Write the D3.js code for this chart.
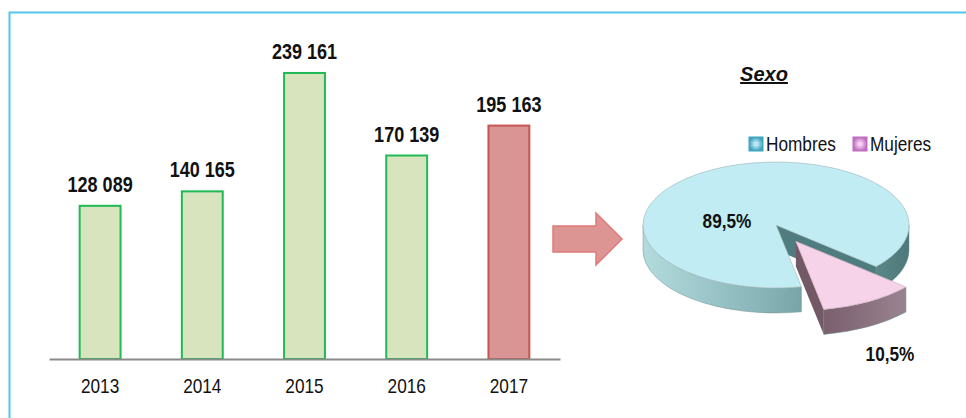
<!DOCTYPE html>
<html>
<head>
<meta charset="utf-8">
<script src="https://cdn.jsdelivr.net/npm/d3@7"></script>
<style>
  body { margin: 0; background: #fff; }
  svg { display: block; }
  .narrow { font-family: "Liberation Sans", Arial, sans-serif; }
</style>
</head>
<body>
<div id="chart"></div>
<script>
// bar data
const years = ["2013", "2014", "2015", "2016", "2017"];
const totals = [128089, 140165, 239161, 170139, 195163];

// pie data
const sexLabels = ["Hombres", "Mujeres"];
const sexShares = [89.5, 10.5];

const W = 966, H = 418;
const SQ = 0.82; // horizontal squeeze to imitate a narrow face

const svg = d3.select("#chart").append("svg")
  .attr("width", W)
  .attr("height", H);

svg.append("rect").attr("width", W).attr("height", H).attr("fill", "#fff");

// frame
svg.append("path")
  .attr("d", `M9.5,${H} L9.5,12.5 L${W},12.5`)
  .attr("fill", "none")
  .attr("stroke", "#56c5ec")
  .attr("stroke-width", 2);

// ---- bars ----
const x = d3.scaleBand()
  .domain(years)
  .range([49, 560])
  .paddingInner(0.6)
  .paddingOuter(0.3);

const y = d3.scaleLinear()
  .domain([0, 250000])
  .range([359, 60]);

const fmt = (v) => d3.format(",")(v).replace(/,/g, " ");

const bars = svg.append("g").attr("class", "bars");
bars.selectAll("rect")
  .data(years)
  .join("rect")
  .attr("x", (d) => x(d))
  .attr("y", (d, i) => y(totals[i]))
  .attr("width", x.bandwidth())
  .attr("height", (d, i) => y(0) - y(totals[i]))
  .attr("fill", (d, i) => (i === years.length - 1 ? "#d99594" : "#d7e4bd"))
  .attr("stroke", (d, i) => (i === years.length - 1 ? "#c95452" : "#1fba55"))
  .attr("stroke-width", 2);

bars.selectAll("text.val")
  .data(years)
  .join("text")
  .attr("class", "val narrow")
  .attr("transform", (d, i) =>
    `translate(${x(d) + x.bandwidth() / 2},${y(totals[i]) - 14}) scale(${SQ},1)`)
  .attr("text-anchor", "middle")
  .style("font-size", "22px")
  .style("font-weight", "bold")
  .attr("fill", "#111")
  .text((d, i) => fmt(totals[i]));

const axis = svg.append("g")
  .attr("transform", `translate(0,${y(0)})`)
  .call(d3.axisBottom(x).tickSize(0).tickPadding(19));
axis.select(".domain").attr("stroke", "#8a8a8a").attr("stroke-width", 2);
axis.selectAll("text")
  .attr("class", "narrow")
  .attr("transform", `scale(${SQ},1)`)
  .style("font-size", "21px")
  .attr("fill", "#111");

// ---- arrow ----
const ax = 553, ay = 239;
svg.append("path")
  .attr("d", `M${ax},${ay - 13} H${ax + 43} V${ay - 26} L${ax + 69},${ay} L${ax + 43},${ay + 26} V${ay + 13} H${ax} Z`)
  .attr("fill", "#dd9594")
  .attr("stroke", "#e07a79")
  .attr("stroke-width", 1.5);

// ---- pie ----
const cx = 776, cy = 225, rx = 133, ry = 63, depth = 25;
const pieColors = {
  top: ["#c1ecf3", "#f6d3e8"],
  wall: ["#4f7c7f", "#735866"],
};

const defs = svg.append("defs");
const gH = defs.append("linearGradient")
  .attr("id", "sideH")
  .attr("gradientUnits", "userSpaceOnUse")
  .attr("x1", cx - rx).attr("x2", cx + rx).attr("y1", 0).attr("y2", 0);
gH.append("stop").attr("offset", 0).attr("stop-color", "#b3dbde");
gH.append("stop").attr("offset", 0.45).attr("stop-color", "#88b4b7");
gH.append("stop").attr("offset", 1).attr("stop-color", "#4d797b");
const gM = defs.append("linearGradient")
  .attr("id", "sideM")
  .attr("x1", 0).attr("x2", 1).attr("y1", 0).attr("y2", 0);
gM.append("stop").attr("offset", 0).attr("stop-color", "#7a5f6d");
gM.append("stop").attr("offset", 1).attr("stop-color", "#9a8390");
const sideFill = ["url(#sideH)", "url(#sideM)"];

const deg = Math.PI / 180;
const pie = d3.pie().sort(null)
  .startAngle(169 * deg)
  .endAngle(529 * deg);
const arcs = pie(sexShares);

// the exploded front slice looks a bit larger (perspective)
const rScale = [1, 1.1];
const explode = [0, 0.3];

function geom(i, ox, oy) {
  const R = rx * rScale[i], r = ry * rScale[i];
  const pt = (a, dy = 0) => [ox + R * Math.sin(a), oy - r * Math.cos(a) + dy];
  return {
    R, r, pt,
    outerWall(s, e) {
      const a = pt(s), b = pt(e), c = pt(e, depth), d = pt(s, depth);
      const big = e - s > Math.PI ? 1 : 0;
      return `M${a} A${R},${r} 0 ${big} 1 ${b} L${c} A${R},${r} 0 ${big} 0 ${d} Z`;
    },
    cutWall(a) {
      const p = d3.path();
      const e = pt(a);
      p.moveTo(ox, oy);
      p.lineTo(e[0], e[1]);
      p.lineTo(e[0], e[1] + depth);
      p.lineTo(ox, oy + depth);
      p.closePath();
      return p.toString();
    },
  };
}

const pieG = svg.append("g").attr("class", "pie");

arcs.forEach((d, i) => {
  const mid = (d.startAngle + d.endAngle) / 2;
  const ox = cx + Math.sin(mid) * rx * explode[i];
  const oy = cy - Math.cos(mid) * ry * explode[i];
  const gm = geom(i, ox, oy);
  const g = pieG.append("g");

  // visible cut walls
  if (Math.sin(d.endAngle) > 0) {
    g.append("path").attr("d", gm.cutWall(d.endAngle)).attr("fill", pieColors.wall[i]);
  }
  if (-Math.sin(d.startAngle) > 0) {
    g.append("path").attr("d", gm.cutWall(d.startAngle)).attr("fill", pieColors.wall[i]);
  }

  // outer wall on the front half
  for (let k = 0; k < 2; k++) {
    const lo = Math.max(d.startAngle, Math.PI / 2 + 2 * Math.PI * k);
    const hi = Math.min(d.endAngle, 1.5 * Math.PI + 2 * Math.PI * k);
    if (hi > lo) {
      g.append("path")
        .attr("d", gm.outerWall(lo, hi))
        .attr("fill", sideFill[i])
        .attr("stroke", "#6f8f90")
        .attr("stroke-width", 0.5);
    }
  }

  g.append("path")
    .attr("transform", `translate(${ox},${oy}) scale(1,${ry / rx})`)
    .attr("d", d3.arc().innerRadius(0).outerRadius(gm.R)(d))
    .attr("fill", pieColors.top[i])
    .attr("stroke", i === 0 ? "#a9c4c8" : "#d9b6c9")
    .attr("stroke-width", 0.8)
    .attr("vector-effect", "non-scaling-stroke");
});

// pie labels
const pieLabelPos = [[727, 228], [890, 361]];
pieG.selectAll("text")
  .data(sexShares)
  .join("text")
  .attr("class", "narrow")
  .attr("transform", (d, i) => `translate(${pieLabelPos[i]}) scale(${SQ},1)`)
  .attr("text-anchor", "middle")
  .style("font-size", "21px")
  .style("font-weight", "bold")
  .attr("fill", "#111")
  .text((d) => d3.format(".1f")(d).replace(".", ",") + "%");

// title
svg.append("text")
  .attr("x", 764)
  .attr("y", 81)
  .attr("text-anchor", "middle")
  .style("font-family", "'Liberation Sans', Arial, sans-serif")
  .style("font-size", "20px")
  .style("font-weight", "bold")
  .style("font-style", "italic")
  .style("text-decoration", "underline")
  .attr("fill", "#111")
  .text("Sexo");

// legend
const legX = [749, 853];
const legSq = [["#3ea3bd", "#bfeaf5"], ["#c06cc0", "#f6d3f2"]];
const leg = svg.append("g").attr("class", "legend");
sexLabels.forEach((lab, i) => {
  const gr = defs.append("radialGradient").attr("id", "leg" + i);
  gr.append("stop").attr("offset", 0.2).attr("stop-color", legSq[i][1]);
  gr.append("stop").attr("offset", 1).attr("stop-color", legSq[i][0]);
  leg.append("rect")
    .attr("x", legX[i]).attr("y", 137)
    .attr("width", 14).attr("height", 14)
    .attr("fill", `url(#leg${i})`)
    .attr("stroke", legSq[i][0])
    .attr("stroke-width", 1);
  leg.append("text")
    .attr("class", "narrow")
    .attr("transform", `translate(${legX[i] + 17},151) scale(${SQ},1)`)
    .style("font-size", "21px")
    .attr("fill", "#111")
    .text(lab);
});
</script>
</body>
</html>
